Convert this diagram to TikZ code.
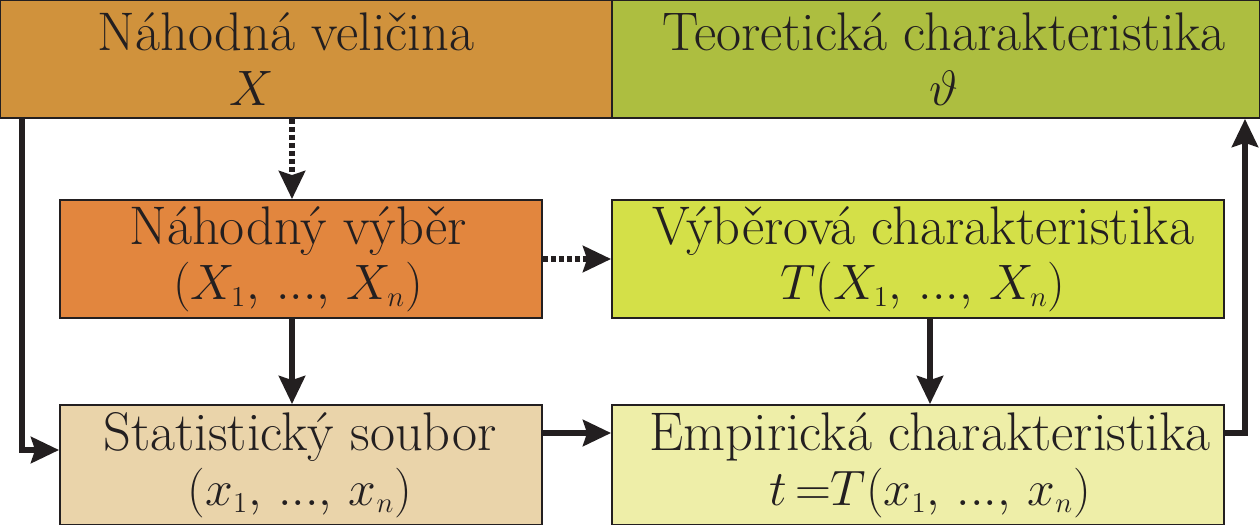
\documentclass[tikz,border=0pt]{standalone}
\usetikzlibrary{arrows.meta}
\definecolor{cTL}{HTML}{D0923C}
\definecolor{cTR}{HTML}{ADBE40}
\definecolor{cML}{HTML}{E2863E}
\definecolor{cMR}{HTML}{D4E048}
\definecolor{cBL}{HTML}{EAD4AA}
\definecolor{cBR}{HTML}{EEEEA8}
\definecolor{ink}{HTML}{231F20}
\newcommand{\ssub}[1]{_{\scriptscriptstyle #1}}
\begin{document}
\begin{tikzpicture}[x=0.5pt,y=-0.5pt,
  box/.style={draw=ink,line width=0.9pt,rectangle,inner sep=0pt,align=center,
    text=ink,font=\fontsize{27.2}{27.5}\selectfont},
  conn/.style={draw=ink,line width=3.3pt,-{Stealth[length=14pt,width=13pt,inset=2pt]}},
  dconn/.style={conn,dash pattern=on 2.5pt off 1.5pt}]
\useasboundingbox (0,0) rectangle (1260,525);
\node[box,fill=cTL,minimum width=306pt,minimum height=59pt] (tl) at (306,59) {};
\node[box,fill=cTR,minimum width=324pt,minimum height=59pt] (tr) at (936,59) {};
\node[box,fill=cML,minimum width=241pt,minimum height=59pt] (ml) at (301,259) {};
\node[box,fill=cMR,minimum width=306pt,minimum height=59pt] (mr) at (918,259) {};
\node[box,fill=cBL,minimum width=241pt,minimum height=60pt] (bl) at (301,465) {};
\node[box,fill=cBR,minimum width=306pt,minimum height=60pt] (br) at (918,465) {};
\node[box,draw=none] (tlt) at (286,59) {Náhodná veličina\\\hspace*{-34pt}$X$};
\node[box,draw=none] (trt) at (944,59) {Teoretická charakteristika\\$\vartheta$};
\node[box,draw=none] (mlt) at (298,259) {Náhodný výběr\\$(X\ssub{1},\,...,\,X\ssub{n})$};
\node[box,draw=none] (mrt) at (923,259) {Výběrová charakteristika\\$T(X\ssub{1},\,...,\,X\ssub{n})$};
\node[box,draw=none] (blt) at (300,465) {Statistický soubor\\$(x\ssub{1},\,...,\,x\ssub{n})$};
\node[box,draw=none] (brt) at (930,465) {Empirická charakteristika\\$t\,{=}T(x\ssub{1},\,...,\,x\ssub{n})$};
\coordinate (c1) at (22,450);
\coordinate (c2) at (1245,433);
\draw[dconn] (tl.south -| 292,0) -- (ml.north -| 292,0);
\draw[dconn] (ml.east) -- (mr.west);
\draw[conn] (ml.south -| 292,0) -- (bl.north -| 292,0);
\draw[conn] (mr.south -| 930,0) -- (br.north -| 930,0);
\draw[conn] (bl.east |- 0,433) -- (br.west |- 0,433);
\draw[conn] (tl.south -| c1) -- (c1) -- (bl.west |- c1);
\draw[conn] (br.east |- c2) -- (c2) -- (tr.south -| c2);
\end{tikzpicture}
\end{document}
